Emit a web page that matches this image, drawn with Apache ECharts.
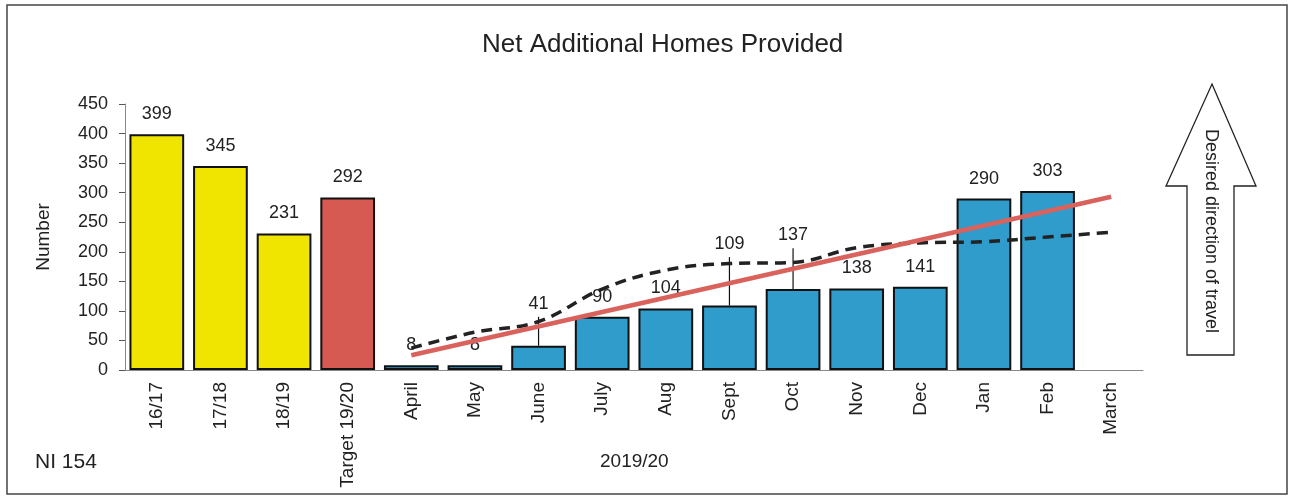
<!DOCTYPE html>
<html>
<head>
<meta charset="utf-8">
<script src="https://cdn.jsdelivr.net/npm/echarts@6/dist/echarts.min.js"></script>
<style>
  html, body { margin: 0; padding: 0; background: #fff; }
  #main { width: 1294px; height: 503px; }
</style>
</head>
<body>
<div id="main"></div>
<script>
const categories = ["16/17", "17/18", "18/19", "Target 19/20", "April", "May", "June", "July", "Aug", "Sept", "Oct", "Nov", "Dec", "Jan", "Feb", "March"];
const groups = ["past", "past", "past", "target", "month", "month", "month", "month", "month", "month", "month", "month", "month", "month", "month", "month"];
const homes = [399, 345, 231, 292, 8, 8, 41, 90, 104, 109, 137, 138, 141, 290, 303, null];
// where the leader line ends for labels lifted away from their bar
const leaderTop = [null, null, null, null, null, null, 90, null, null, 191, 206, null, null, null, null, null];
const trajectory = [null, null, null, null, 37, 64, 82, 137, 169, 180, 182, 207, 215, 217, 225, 233];
const trend = [null, null, null, null, 25, null, null, null, null, null, null, null, null, null, null, 293];
const yTicks = { min: 0, max: 450, interval: 50 };

const groupColor = { past: "#efe500", target: "#d65a52", month: "#2f9ccc" };

const chart = echarts.init(document.getElementById("main"));
const font = "Liberation Sans, Arial, sans-serif";

chart.setOption({
  animation: false,
  textStyle: { fontFamily: font },
  title: {
    text: "Net Additional Homes Provided",
    left: 477,
    top: 27,
    textStyle: { fontFamily: font, fontSize: 26, fontWeight: "normal", color: "#222" }
  },
  grid: { left: 125, right: 151, top: 104, bottom: 133 },
  xAxis: {
    type: "category",
    data: categories,
    axisLine: { lineStyle: { color: "#888", width: 1 } },
    axisTick: { length: 5, lineStyle: { color: "#555" } },
    axisLabel: { rotate: 90, margin: 12, fontSize: 19, color: "#222", fontFamily: font, interval: 0 }
  },
  yAxis: {
    type: "value",
    min: yTicks.min,
    max: yTicks.max,
    interval: yTicks.interval,
    name: "Number",
    nameLocation: "middle",
    nameGap: 72,
    nameTextStyle: { fontSize: 19, color: "#222", fontFamily: font },
    splitLine: { show: false },
    axisLine: { show: true, lineStyle: { color: "#888", width: 1 } },
    axisTick: { show: true, length: 6, lineStyle: { color: "#555" } },
    axisLabel: { margin: 17, fontSize: 18, color: "#222", fontFamily: font }
  },
  series: [
    {
      type: "bar",
      barCategoryGap: "14%",
      data: homes.map((v, i) => ({
        value: v,
        itemStyle: { color: groupColor[groups[i]] },
        label: { show: v != null && leaderTop[i] == null }
      })),
      itemStyle: { borderColor: "#111", borderWidth: 2 },
      label: { position: "top", distance: 11, fontSize: 18, color: "#222", fontFamily: font },
      z: 2
    },
    {
      type: "custom",
      data: homes.map((v, i) => [i, v, leaderTop[i]]),
      renderItem: function (params, api) {
        const top = api.value(2);
        if (top == null || isNaN(top)) return null;
        const a = api.coord([api.value(0), api.value(1)]);
        const b = api.coord([api.value(0), top]);
        return {
          type: "group",
          children: [
            { type: "line", shape: { x1: a[0], y1: a[1], x2: b[0], y2: b[1] }, style: { stroke: "#111", lineWidth: 1.2 } },
            { type: "text", x: b[0], y: b[1] - 4, style: { text: String(api.value(1)), fontSize: 18, fill: "#222", fontFamily: font, align: "center", verticalAlign: "bottom" } }
          ]
        };
      },
      z: 3
    },
    {
      type: "line",
      data: trajectory,
      smooth: 0.4,
      symbol: "none",
      lineStyle: { color: "#222", width: 3.5, type: [11, 7] },
      z: 4
    },
    {
      type: "line",
      data: trend,
      connectNulls: true,
      symbol: "none",
      lineStyle: { color: "#d9625c", width: 4.5 },
      z: 5
    }
  ],
  graphic: [
    { type: "rect", shape: { x: 7, y: 5, width: 1280, height: 489 }, style: { fill: "none", stroke: "#444", lineWidth: 1.5 }, silent: true },
    {
      type: "polygon",
      shape: { points: [[1212, 84], [1256, 186], [1234, 186], [1234, 355], [1187, 355], [1187, 186], [1166, 186]] },
      style: { fill: "#fff", stroke: "#222", lineWidth: 1.3 }
    },
    {
      type: "text",
      x: 1211, y: 231,
      rotation: -Math.PI / 2,
      style: { text: "Desired direction of travel", fontSize: 18, fill: "#222", fontFamily: font, align: "center", verticalAlign: "middle" }
    },
    { type: "text", left: 35, top: 452, style: { text: "NI 154", fontSize: 21, fill: "#222", fontFamily: font } },
    { type: "text", left: 600, top: 452, style: { text: "2019/20", fontSize: 19, fill: "#222", fontFamily: font } }
  ]
});
</script>
</body>
</html>
